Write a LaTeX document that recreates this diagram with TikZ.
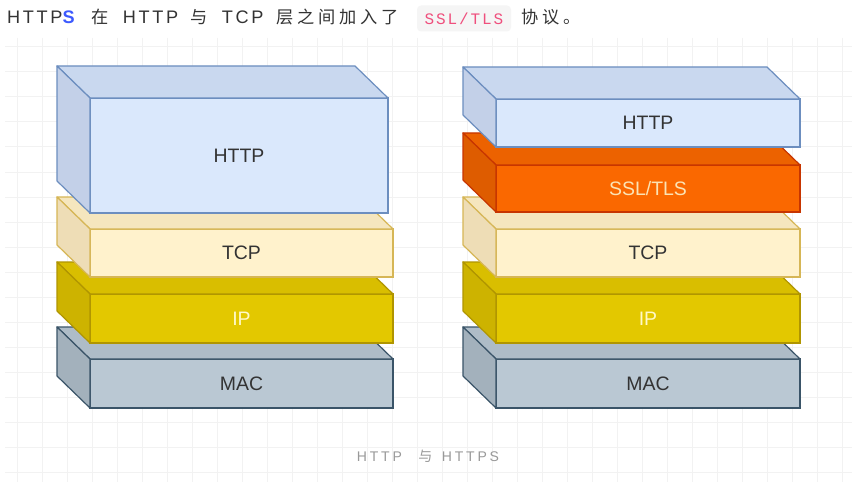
\documentclass[tikz,border=0pt]{standalone}
\usepackage{fontspec}
\setmainfont{Liberation Sans}
\newfontfamily\latn[LetterSpace=20]{Liberation Sans}
\newfontfamily\latt[LetterSpace=15]{Liberation Sans}
\newfontfamily\cjk[LetterSpace=25]{Noto Sans CJK SC}
\newfontfamily\cjkt[LetterSpace=22]{Noto Sans CJK SC}
\newfontfamily\mono[LetterSpace=12]{Liberation Mono}
\usetikzlibrary{calc}
\definecolor{httpF}{HTML}{DAE8FC}
\definecolor{httpT}{HTML}{C9D8EF}
\definecolor{httpL}{HTML}{C3D0E8}
\definecolor{httpS}{HTML}{6C8EBF}
\definecolor{httpX}{HTML}{333333}
\definecolor{tcpF}{HTML}{FFF2CC}
\definecolor{tcpT}{HTML}{F5E6BE}
\definecolor{tcpL}{HTML}{EEDDB6}
\definecolor{tcpS}{HTML}{D6B656}
\definecolor{tcpX}{HTML}{333333}
\definecolor{ipF}{HTML}{E3C800}
\definecolor{ipT}{HTML}{D9BE00}
\definecolor{ipL}{HTML}{CDB300}
\definecolor{ipS}{HTML}{B09500}
\definecolor{ipX}{HTML}{FFF9C8}
\definecolor{macF}{HTML}{BAC8D3}
\definecolor{macT}{HTML}{AEBCC7}
\definecolor{macL}{HTML}{A3B1BC}
\definecolor{macS}{HTML}{3A5468}
\definecolor{macX}{HTML}{333333}
\definecolor{sslF}{HTML}{FA6800}
\definecolor{sslT}{HTML}{EC6200}
\definecolor{sslL}{HTML}{DE5C00}
\definecolor{sslS}{HTML}{C73500}
\definecolor{sslX}{HTML}{FBE3B5}
\definecolor{gridc}{HTML}{F2F2F2}
\definecolor{txt}{HTML}{333333}
\definecolor{sblue}{HTML}{3D5AFE}
\definecolor{pink}{HTML}{EF4F7D}
\definecolor{codebg}{HTML}{F5F5F5}
\definecolor{capc}{HTML}{999999}
\tikzset{
  face/.style={rectangle, inner sep=0pt, outer sep=0pt, line width=0.9pt, font=\fontsize{14.6}{16}\selectfont},
  side/.style={line width=0.9pt, line join=round},
  gridl/.style={draw=gridc, line width=0.75pt},
  toptext/.style={anchor=base west, inner sep=0pt, text=txt, font=\fontsize{13.6}{16}\selectfont},
  topcjk/.style={anchor=base west, inner sep=0pt, text=txt, font=\fontsize{12.9}{16}\selectfont},
  captext/.style={anchor=base west, inner sep=0pt, text=capc, font=\fontsize{10.5}{12}\selectfont},
}
\newcommand\layer[7]{%
  \node[face, fill=#1F, draw=#1S, text=#1X, minimum width={(#5-#3)*0.75pt}, minimum height={(#6-#4)*0.75pt}] (#2) at ({(#3+#5)/2},{(#4+#6)/2}) {#7};
  \filldraw[side, fill=#1T, draw=#1S] (#2.north west) -- ++(-33,-32) -- ($(#2.north east)+(-33,-32)$) -- (#2.north east) -- cycle;
  \filldraw[side, fill=#1L, draw=#1S] (#2.north west) -- ++(-33,-32) -- ($(#2.south west)+(-33,-32)$) -- (#2.south west) -- cycle;
}
\begin{document}
\begin{tikzpicture}[x=0.75pt, y=-0.75pt]
\useasboundingbox[fill=white] (0,0) rectangle (854,485);
% background grid
\foreach \gx in {17,42,...,842} \draw[gridl] (\gx,38) -- (\gx,482);
\foreach \gy in {47,72,...,472} \draw[gridl] (5,\gy) -- (852,\gy);
% top line of text
\node[toptext] (t1) at (6.8,24) {\latt HTTP{\bfseries\color{sblue}S}};
\node[topcjk] (t2) at (91,24) {\cjkt 在};
\node[toptext] (t3) at (122.5,24) {\latt HTTP};
\node[topcjk] (t4) at (190,24) {\cjkt 与};
\node[toptext] (t5) at (221.5,24) {\latt TCP};
\node[topcjk] (t6) at (276.5,24) {\cjkt 层之间加入了};
\node[fill=codebg, rounded corners=3pt, minimum width=70.5pt, minimum height=19.5pt, inner sep=0pt, text=pink, font=\fontsize{12}{14}\selectfont] (t7) at (464,18.5) {\mono SSL/TLS};
\node[topcjk] (t8) at (521.5,24) {\cjkt 协议。};
% left stack
\layer{mac}{lmac}{90}{359}{393}{408}{MAC}
\layer{ip}{lip}{90}{294}{393}{343}{IP}
\layer{tcp}{ltcp}{90}{229}{393}{277}{TCP}
\layer{http}{lhttp}{90}{98}{388}{213}{HTTP}
% right stack
\layer{mac}{rmac}{496}{359}{800}{408}{MAC}
\layer{ip}{rip}{496}{294}{800}{343}{IP}
\layer{tcp}{rtcp}{496}{229}{800}{277}{TCP}
\layer{ssl}{rssl}{496}{165}{800}{212}{SSL/TLS}
\layer{http}{rhttp}{496}{99}{800}{147}{HTTP}
% caption
\node[captext] (c1) at (356.7,461) {\latn HTTP};
\node[captext] (c2) at (418,461) {\cjk 与};
\node[captext] (c3) at (441.7,461) {\latn HTTPS};
\end{tikzpicture}
\end{document}
